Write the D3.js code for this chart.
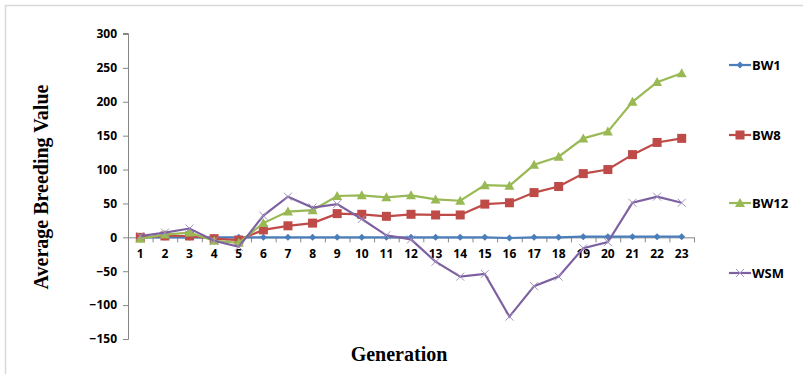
<!DOCTYPE html>
<html>
<head>
<meta charset="utf-8">
<script src="https://cdn.jsdelivr.net/npm/d3@7"></script>
<style>
html,body{margin:0;padding:0;background:#fff;}
svg{display:block;}
</style>
</head>
<body>
<svg id="chart" width="803" height="374"></svg>
<script>
const generations = d3.range(1, 24);
const bw1  = [0,0,0,0,0,0,0,0,0,0,0,0,0,0,0,-1,0,0,1,1,1,1,1];
const bw8  = [0,2,2,-2,-4,11,17,21,35,34,31,34,33,33,49,51,66,75,94,100,122,140,146];
const bw12 = [-2,4,7,-5,-8,21,38,40,61,62,59,62,56,54,77,76,107,119,146,156,200,229,242];
const wsm  = [2,7,13,-5,-14,32,60,44,49,27,3,-3,-36,-58,-54,-117,-72,-58,-16,-7,51,60,51];
const yTicks = [-150,-100,-50,0,50,100,150,200,250,300];
const seriesNames = ["BW1","BW8","BW12","WSM"];
const seriesColors = ["#4a7ebb","#be4b48","#98b954","#7d60a0"];
const seriesData = [bw1, bw8, bw12, wsm];

(function(){
const svg = d3.select("#chart");
svg.append("rect").attr("x",5.5).attr("y",5.5).attr("width",830).attr("height",400)
  .attr("fill","none").attr("stroke","#d9d9d9").attr("stroke-width",1.5);

const pL = 128, pR = 694, pT = 34, pB = 339;
const x = d3.scaleBand().domain(generations).range([pL, pR]);
const y = d3.scaleLinear().domain([-150, 300]).range([pB, pT]);

const yAxis = d3.axisLeft(y).tickValues(yTicks).tickSize(5).tickPadding(6);
const gy = svg.append("g").attr("transform",`translate(${pL},0)`).call(yAxis);
gy.select(".domain").attr("stroke","#868686").attr("d",`M-5,${y(-150)+0.5}H0.5V${y(300)-0.5}H-5`);
gy.selectAll(".tick line").attr("stroke","#868686");
gy.selectAll(".tick text").attr("font-family","Open Sans, sans-serif").attr("font-weight","bold")
  .attr("font-size","12px").attr("fill","#000");

const xAxis = d3.axisBottom(x).tickSize(0).tickPadding(12);
const gx = svg.append("g").attr("transform",`translate(0,${y(0)})`).call(xAxis);
gx.select(".domain").attr("stroke","#868686").attr("d",`M${pL},0.5H${pR}`);
gx.selectAll(".tick text").attr("font-family","Open Sans, sans-serif").attr("font-weight","bold")
  .attr("font-size","12px").attr("fill","#000");
const bounds = generations.map(g => x(g)).concat([pR]);
gx.selectAll(".bt").data(bounds).enter().append("line")
  .attr("x1",d=>d+0.5).attr("x2",d=>d+0.5).attr("y1",0).attr("y2",5).attr("stroke","#868686");

const cx = g => x(g) + x.bandwidth()/2;
const line = d3.line().x((d,i)=>cx(generations[i])).y(d=>y(d));

function drawMarker(sel, si, col){
  if(si===0){
    sel.append("path").attr("d","M0,-3.5L3.5,0L0,3.5L-3.5,0Z").attr("fill",col);
  } else if(si===1){
    sel.append("rect").attr("x",-4.5).attr("y",-4.5).attr("width",9).attr("height",9).attr("fill",col);
  } else if(si===2){
    sel.append("path").attr("d","M0,-5L5,4L-5,4Z").attr("fill",col);
  } else {
    sel.append("path").attr("d","M-4,-4L4,4M-4,4L4,-4").attr("stroke","#a392c0").attr("stroke-width",1);
  }
}

[0,1,2,3].forEach(si => {
  const data = seriesData[si];
  const col = seriesColors[si];
  const g = svg.append("g");
  g.append("path").datum(data).attr("d",line).attr("fill","none").attr("stroke",col).attr("stroke-width",2.2);
  const pts = g.selectAll("g.pt").data(data).enter().append("g")
    .attr("transform",(d,i)=>`translate(${cx(generations[i])},${y(d)})`);
  drawMarker(pts, si, col);
});

const legY = [65,135,203,273];
seriesNames.forEach((n,i)=>{
  const g = svg.append("g").attr("transform",`translate(740,${legY[i]})`);
  g.append("line").attr("x1",-11).attr("x2",11).attr("y1",0).attr("y2",0)
    .attr("stroke",seriesColors[i]).attr("stroke-width",2.2);
  drawMarker(g, i, seriesColors[i]);
  g.append("text").attr("x",12).attr("y",0).attr("dy","0.35em")
    .attr("font-family","Open Sans, sans-serif").attr("font-weight","bold").attr("font-size","13px")
    .attr("fill","#000").text(n);
});

svg.append("text").attr("transform","translate(48,187) rotate(-90)").attr("text-anchor","middle")
  .attr("font-family","Liberation Serif, serif").attr("font-weight","bold").attr("font-size","20px")
  .text("Average Breeding Value");
svg.append("text").attr("x",399).attr("y",361).attr("text-anchor","middle")
  .attr("font-family","Liberation Serif, serif").attr("font-weight","bold").attr("font-size","20px")
  .text("Generation");
})();
</script>
</body>
</html>
